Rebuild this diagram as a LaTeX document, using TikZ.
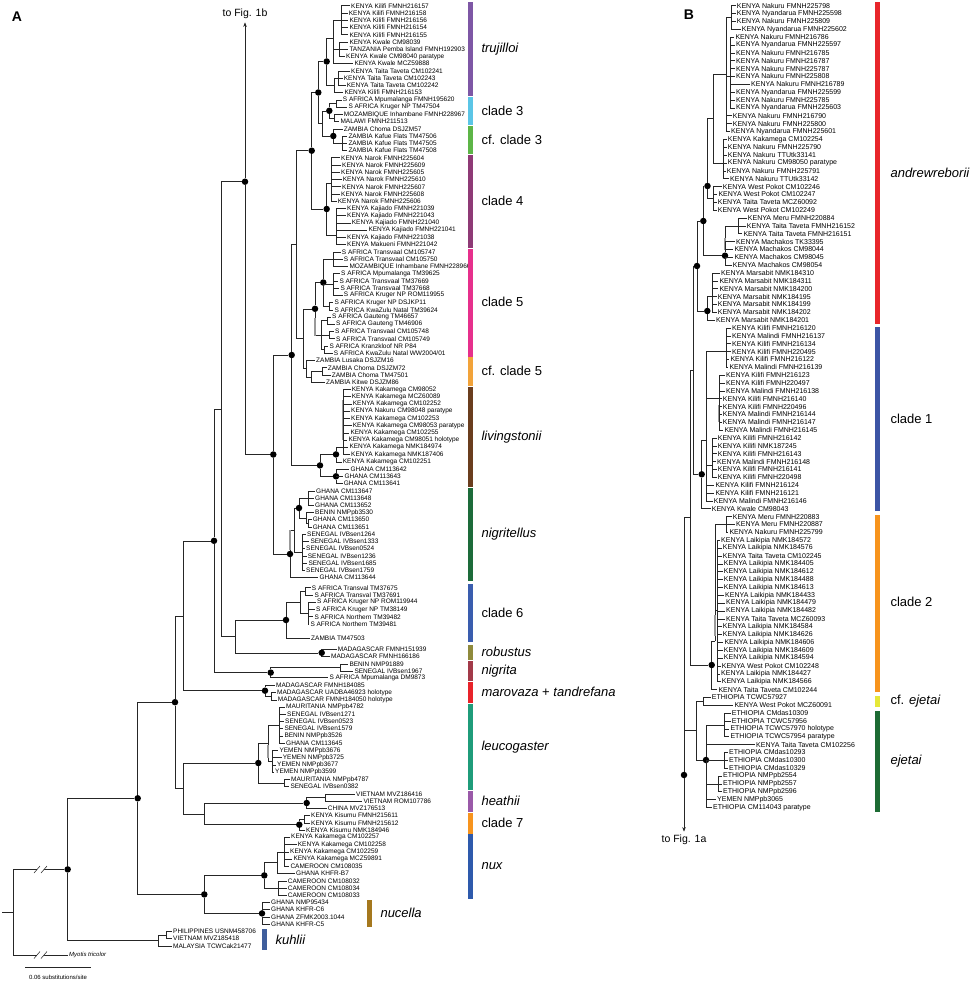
\documentclass[tikz,border=0pt]{standalone}
\usepackage{fontspec}
\setmainfont{Liberation Sans}
\usepackage{tikz}
\usetikzlibrary{arrows.meta}
\usepackage{xcolor}
\definecolor{ColTru}{RGB}{126,87,165}
\definecolor{ColCThree}{RGB}{91,197,230}
\definecolor{ColCfThree}{RGB}{93,181,71}
\definecolor{ColCFour}{RGB}{142,58,118}
\definecolor{ColCFive}{RGB}{230,48,140}
\definecolor{ColCfFive}{RGB}{242,163,58}
\definecolor{ColLiv}{RGB}{106,61,30}
\definecolor{ColNgr}{RGB}{29,107,58}
\definecolor{ColCSix}{RGB}{58,93,174}
\definecolor{ColRob}{RGB}{143,138,60}
\definecolor{ColNig}{RGB}{162,58,73}
\definecolor{ColMar}{RGB}{232,35,42}
\definecolor{ColLeu}{RGB}{31,156,122}
\definecolor{ColHea}{RGB}{154,89,168}
\definecolor{ColCSeven}{RGB}{247,148,30}
\definecolor{ColNux}{RGB}{46,90,172}
\definecolor{ColNuc}{RGB}{165,120,30}
\definecolor{ColKuh}{RGB}{63,94,156}
\definecolor{ColAnd}{RGB}{232,38,43}
\definecolor{ColCOne}{RGB}{60,85,165}
\definecolor{ColCTwo}{RGB}{247,148,29}
\definecolor{ColCfEj}{RGB}{230,232,56}
\definecolor{ColEj}{RGB}{29,107,52}
\tikzstyle{TipA}=[anchor=west,inner sep=1pt,font=\fontsize{6.5}{7}\selectfont]
\tikzstyle{TipB}=[anchor=west,inner sep=1pt,font=\fontsize{7}{8}\selectfont]
\tikzstyle{Branch}=[black!85,line width=0.55pt]
\tikzstyle{SupDot}=[circle,fill=black,inner sep=0pt,minimum size=6.5pt]
\tikzstyle{SupBar}=[fill=black!40]
\tikzstyle{CladeName}=[anchor=west,font=\fontsize{13}{15}\selectfont]
\tikzstyle{PanelTag}=[font=\bfseries\fontsize{14}{16}\selectfont]
\tikzstyle{LinkText}=[font=\fontsize{10.5}{12}\selectfont]
\tikzstyle{SmallNote}=[font=\fontsize{6}{7}\selectfont]
\newcommand{\LeafA}[5]{\node[TipA](#1)at(#3,#4){#5};\draw[Branch](#2)|-(#1.west);}
\newcommand{\LeafB}[5]{\node[TipB](#1)at(#3,#4){#5};\draw[Branch](#2)|-(#1.west);}
\begin{document}
\begin{tikzpicture}[x=1pt,y=-1pt]
\useasboundingbox (0,0) rectangle (970,984);
\node[PanelTag](tagA)at(17,17){A};
\node[PanelTag](tagB)at(689,15){B};
% ---------- panel A: inner nodes
\node[SupDot](aTru)at(326.7,61.5){};
\coordinate(aTruA)at(333,38);
\coordinate(aTruA1)at(341,20.2);
\coordinate(aTruA2)at(339,49.1);
\coordinate(aTruB)at(334,85);
\coordinate(aTruB1)at(338,78.1);
\coordinate(aC3x)at(322,123.4);
\node[SupDot](aC3)at(329.3,110.8){};
\coordinate(aC3a)at(336,103.5);
\coordinate(aC3b)at(334,118);
\node[SupDot](aCF3)at(333.3,136){};
\coordinate(aCF3a)at(342,143.3);
\node[SupDot](aN10)at(318.3,92.5){};
\node[SupDot](aC4)at(326.7,209){};
\coordinate(aC4n)at(331,183);
\coordinate(aC4k)at(336,235);
\node[SupDot](aN8)at(311.7,150.7){};
\node[SupDot](aC5)at(315,308.8){};
\node[SupDot](aC5a)at(323.3,282.5){};
\coordinate(aC5a1)at(333,259);
\coordinate(aC5a2)at(333,284);
\coordinate(aC5a3)at(329,306);
\coordinate(aC5b)at(321,335.1);
\coordinate(aC5b1)at(327,320.6);
\coordinate(aC5b2)at(329,335.1);
\coordinate(aC5b3)at(324,349.6);
\coordinate(aCF5)at(306,368.6);
\coordinate(aCF5b)at(311,376.8);
\coordinate(aCF5c)at(322,371.3);
\coordinate(aN9)at(303.3,338.7);
\coordinate(aN7)at(296.7,244.7);
\coordinate(aLivK)at(343,447);
\node[SupDot](aLiv)at(336,454.4){};
\node[SupDot](aGh)at(336,476.3){};
\node[SupDot](aLG)at(320,465.4){};
\node[SupDot](aN5)at(291.7,355){};
\coordinate(aNgrG1)at(308,498);
\coordinate(aNgrG2)at(306,518);
\coordinate(aNgrG2p)at(308,523.4);
\node[SupDot](aNgrG)at(299,508){};
\coordinate(aNgrS)at(302,552.3);
\coordinate(aNgrGS)at(294,530.2);
\node[SupDot](aNgr)at(290,554){};
\node[SupDot](aN4)at(273.3,454.5){};
\node[SupDot](aN3)at(245,181.7){};
\coordinate(aC6a)at(305,591.3);
\coordinate(aC6b)at(308,613);
\coordinate(aC6s)at(300,602);
\node[SupDot](aC6)at(286,620){};
\node[SupDot](aRob)at(321.7,652.8){};
\coordinate(aN6)at(235.3,636.4);
\coordinate(aN2)at(221,409);
\coordinate(aNigP)at(340,667.7);
\node[SupDot](aNig)at(270.7,672.6){};
\node[SupDot](aN1)at(214,540.8){};
\coordinate(aMarP)at(271,696.1);
\node[SupDot](aMar)at(265,690.7){};
\coordinate(aH3)at(183.7,615.8);
\coordinate(aLeuA1)at(279,725);
\coordinate(aLeuA2)at(272,761);
\coordinate(aLeuA)at(268,743);
\coordinate(aLeuB)at(284,783);
\node[SupDot](aLeu)at(258.3,763){};
\coordinate(aHeaP)at(325,797.5);
\node[SupDot](aHea)at(306.7,803){};
\coordinate(aC7P)at(304,819.3);
\node[SupDot](aC7)at(299.3,824.7){};
\coordinate(aH5)at(204.3,813.9);
\coordinate(aH4)at(183.3,788.5);
\node[SupDot](aH2)at(175,702.2){};
\coordinate(aNuxK1)at(284,851.8);
\coordinate(aNuxK)at(277,862.7);
\coordinate(aNuxC)at(278,888);
\node[SupDot](aNux)at(264.3,875.4){};
\node[SupDot](aNuc)at(262,913.4){};
\node[SupDot](aNN)at(204.3,894.4){};
\node[SupDot](aH1)at(137.7,798.3){};
\coordinate(aKuhP)at(166,935.1);
\coordinate(aKuh)at(158,940.5);
\node[SupDot](aIn)at(67.7,869.4){};
\coordinate(aRoot)at(13,912);
\coordinate(aBase)at(2,912);
% ---------- panel A: inner branches
\draw[Branch](aTru)|-(aTruA) (aTru)|-(aTruB) (aTruA)|-(aTruA1) (aTruA)|-(aTruA2) (aTruB)|-(aTruB1);
\draw[Branch](aC3x)|-(aC3) (aC3x)|-(aCF3) (aC3)|-(aC3a) (aC3)|-(aC3b) (aCF3)|-(aCF3a);
\draw[Branch](aN10)|-(aTru) (aN10)|-(aC3x) (aC4)|-(aC4n) (aC4)|-(aC4k);
\draw[Branch](aN8)|-(aN10) (aN8)|-(aC4);
\draw[Branch](aC5)|-(aC5a) (aC5)|-(aC5b) (aC5a)|-(aC5a1) (aC5a)|-(aC5a2) (aC5a)|-(aC5a3);
\draw[Branch](aC5b)|-(aC5b1) (aC5b)|-(aC5b2) (aC5b)|-(aC5b3);
\draw[Branch](aCF5)|-(aCF5b) (aCF5b)|-(aCF5c) (aN9)|-(aC5) (aN9)|-(aCF5);
\draw[Branch](aN7)|-(aN8) (aN7)|-(aN9);
\draw[Branch](aLiv)|-(aLivK) (aLG)|-(aLiv) (aLG)|-(aGh) (aN5)|-(aN7) (aN5)|-(aLG);
\draw[Branch](aNgrG)|-(aNgrG1) (aNgrG)|-(aNgrG2) (aNgrG2)|-(aNgrG2p) (aNgrGS)|-(aNgrG) (aNgrGS)|-(aNgrS) (aNgr)|-(aNgrGS);
\draw[Branch](aN4)|-(aN5) (aN4)|-(aNgr) (aN3)|-(aN4);
\draw[Branch](aC6s)|-(aC6a) (aC6s)|-(aC6b) (aC6)|-(aC6s) (aN6)|-(aC6) (aN6)|-(aRob);
\draw[Branch](aN2)|-(aN3) (aN2)|-(aN6) (aNig)|-(aNigP) (aN1)|-(aN2) (aN1)|-(aNig);
\draw[Branch](aMar)|-(aMarP) (aH3)|-(aN1) (aH3)|-(aMar);
\draw[Branch](aLeuA)|-(aLeuA1) (aLeuA)|-(aLeuA2) (aLeu)|-(aLeuA) (aLeu)|-(aLeuB);
\draw[Branch](aHea)|-(aHeaP) (aC7)|-(aC7P) (aH5)|-(aHea) (aH5)|-(aC7) (aH4)|-(aLeu) (aH4)|-(aH5);
\draw[Branch](aH2)|-(aH3) (aH2)|-(aH4);
\draw[Branch](aNuxK)|-(aNuxK1) (aNux)|-(aNuxK) (aNux)|-(aNuxC) (aNN)|-(aNux) (aNN)|-(aNuc);
\draw[Branch](aH1)|-(aH2) (aH1)|-(aNN) (aKuh)|-(aKuhP) (aIn)|-(aH1) (aIn)|-(aKuh);
\draw[Branch](aRoot)|-(aIn) (aBase)--(aRoot);
% grey support bars
\fill[SupBar](288.6,530)rectangle(291.4,550);
\fill[SupBar](313.6,318)rectangle(316.4,336);
\fill[SupBar](341.6,400)rectangle(344.4,440);
\fill[SupBar](266.6,745)rectangle(269.4,758);
% link to panel B
\node[LinkText](aUp)at(245,14){to Fig. 1b};
\draw[Branch,-{Stealth[length=4.5pt,width=3.5pt]}](aN3)--(aUp);
% ---------- panel A: tips
\LeafA{tA1}{aTruA1}{350}{5.7}{KENYA Kilifi FMNH216157}
\LeafA{tA2}{aTruA1}{347.7}{12.9}{KENYA Kilifi FMNH216158}
\LeafA{tA3}{aTruA1}{348.3}{20.2}{KENYA Kilifi FMNH216156}
\LeafA{tA4}{aTruA1}{348.3}{27.4}{KENYA Kilifi FMNH216154}
\LeafA{tA5}{aTruA1}{348.3}{34.7}{KENYA Kilifi FMNH216155}
\LeafA{tA6}{aTruA2}{348.3}{41.9}{KENYA Kwale CM98039}
\LeafA{tA7}{aTruA2}{348.3}{49.1}{TANZANIA Pemba Island FMNH192903}
\LeafA{tA8}{aTruA2}{345}{56.4}{KENYA Kwale CM98040 paratype}
\LeafA{tA9}{aTruA}{353.3}{63.6}{KENYA Kwale MCZ59888}
\LeafA{tA10}{aTruB1}{350}{70.9}{KENYA Taita Taveta CM102241}
\LeafA{tA11}{aTruB1}{342.7}{78.1}{KENYA Taita Taveta CM102243}
\LeafA{tA12}{aTruB1}{345.7}{85.3}{KENYA Taita Taveta CM102242}
\LeafA{tA13}{aTruB}{343.3}{92.6}{KENYA Kilifi FMNH216153}
\LeafA{tA14}{aC3a}{341.7}{99.8}{S AFRICA Mpumalanga FMNH195620}
\LeafA{tA15}{aC3a}{347.3}{107.1}{S AFRICA Kruger NP TM47504}
\LeafA{tA16}{aC3b}{342.7}{114.3}{MOZAMBIQUE Inhambane FMNH228967}
\LeafA{tA17}{aC3b}{339.3}{121.5}{MALAWI FMNH211513}
\LeafA{tA18}{aCF3}{342.7}{128.8}{ZAMBIA Choma DSJZM57}
\LeafA{tA19}{aCF3a}{347.3}{136.0}{ZAMBIA Kafue Flats TM47506}
\LeafA{tA20}{aCF3a}{347.3}{143.3}{ZAMBIA Kafue Flats TM47505}
\LeafA{tA21}{aCF3a}{347.3}{150.5}{ZAMBIA Kafue Flats TM47508}
\LeafA{tA22}{aC4n}{340}{157.7}{KENYA Narok FMNH225604}
\LeafA{tA23}{aC4n}{341}{165.0}{KENYA Narok FMNH225609}
\LeafA{tA24}{aC4n}{340}{172.2}{KENYA Narok FMNH225605}
\LeafA{tA25}{aC4n}{341.7}{179.5}{KENYA Narok FMNH225610}
\LeafA{tA26}{aC4n}{341}{186.7}{KENYA Narok FMNH225607}
\LeafA{tA27}{aC4n}{340}{193.9}{KENYA Narok FMNH225608}
\LeafA{tA28}{aC4n}{336.7}{201.2}{KENYA Narok FMNH225606}
\LeafA{tA29}{aC4k}{346}{208.4}{KENYA Kajiado FMNH221039}
\LeafA{tA30}{aC4k}{346}{215.7}{KENYA Kajiado FMNH221043}
\LeafA{tA31}{aC4k}{350.7}{222.9}{KENYA Kajiado FMNH221040}
\LeafA{tA32}{aC4k}{367.3}{230.1}{KENYA Kajiado FMNH221041}
\LeafA{tA33}{aC4k}{346}{237.4}{KENYA Kajiado FMNH221038}
\LeafA{tA34}{aC4k}{346}{244.6}{KENYA Makueni FMNH221042}
\LeafA{tA35}{aC5a1}{340.7}{251.9}{S AFRICA Transvaal CM105747}
\LeafA{tA36}{aC5a1}{342.7}{259.1}{S AFRICA Transvaal CM105750}
\LeafA{tA37}{aC5a1}{348.3}{266.3}{MOZAMBIQUE Inhambane FMNH228966}
\LeafA{tA38}{aC5a2}{340}{273.6}{S AFRICA Mpumalanga TM39625}
\LeafA{tA39}{aC5a2}{338.3}{280.8}{S AFRICA Transvaal TM37669}
\LeafA{tA40}{aC5a2}{339.3}{288.1}{S AFRICA Transvaal TM37668}
\LeafA{tA41}{aC5a2}{342.7}{295.3}{S AFRICA Kruger NP ROM119955}
\LeafA{tA42}{aC5a3}{333.3}{302.5}{S AFRICA Kruger NP DSJKP11}
\LeafA{tA43}{aC5a3}{333.3}{309.8}{S AFRICA KwaZulu Natal TM39624}
\LeafA{tA44}{aC5b1}{331}{317.0}{S AFRICA Gauteng TM46657}
\LeafA{tA45}{aC5b1}{335}{324.3}{S AFRICA Gauteng TM46906}
\LeafA{tA46}{aC5b2}{334}{331.5}{S AFRICA Transvaal CM105748}
\LeafA{tA47}{aC5b2}{335}{338.7}{S AFRICA Transvaal CM105749}
\LeafA{tA48}{aC5b3}{328.3}{346.0}{S AFRICA Kranzkloof NR P84}
\LeafA{tA49}{aC5b3}{332.7}{353.2}{S AFRICA KwaZulu Natal WW2004/01}
\LeafA{tA50}{aCF5}{315}{360.5}{ZAMBIA Lusaka DSJZM16}
\LeafA{tA51}{aCF5c}{326.7}{367.7}{ZAMBIA Choma DSJZM72}
\LeafA{tA52}{aCF5c}{330.7}{374.9}{ZAMBIA Choma TM47501}
\LeafA{tA53}{aCF5b}{325}{382.2}{ZAMBIA Kitwe DSJZM86}
\LeafA{tA54}{aLivK}{350.7}{389.4}{KENYA Kakamega CM98052}
\LeafA{tA55}{aLivK}{350.7}{396.7}{KENYA Kakamega MCZ60089}
\LeafA{tA56}{aLivK}{351.7}{403.9}{KENYA Kakamega CM102252}
\LeafA{tA57}{aLivK}{350}{411.1}{KENYA Nakuru CM98048 paratype}
\LeafA{tA58}{aLivK}{350}{418.4}{KENYA Kakamega CM102253}
\LeafA{tA59}{aLivK}{351.7}{425.6}{KENYA Kakamega CM98053 paratype}
\LeafA{tA60}{aLivK}{349.3}{432.9}{KENYA Kakamega CM102255}
\LeafA{tA61}{aLivK}{347.3}{440.1}{KENYA Kakamega CM98051 holotype}
\LeafA{tA62}{aLivK}{348.3}{447.3}{KENYA Kakamega NMK184974}
\LeafA{tA63}{aLivK}{350}{454.6}{KENYA Kakamega NMK187406}
\LeafA{tA64}{aLiv}{341.7}{461.8}{KENYA Kakamega CM102251}
\LeafA{tA65}{aGh}{349.3}{469.1}{GHANA CM113642}
\LeafA{tA66}{aGh}{343.3}{476.3}{GHANA CM113643}
\LeafA{tA67}{aGh}{342.7}{483.5}{GHANA CM113641}
\LeafA{tA68}{aNgrG1}{315}{490.8}{GHANA CM113647}
\LeafA{tA69}{aNgrG1}{314}{498.0}{GHANA CM113648}
\LeafA{tA70}{aNgrG1}{314}{505.3}{GHANA CM113652}
\LeafA{tA71}{aNgrG2}{314}{512.5}{BENIN NMPpb3530}
\LeafA{tA72}{aNgrG2p}{311.7}{519.7}{GHANA CM113650}
\LeafA{tA73}{aNgrG2p}{311.7}{527.0}{GHANA CM113651}
\LeafA{tA74}{aNgrS}{306}{534.2}{SENEGAL IVBsen1264}
\LeafA{tA75}{aNgrS}{309.3}{541.5}{SENEGAL IVBsen1333}
\LeafA{tA76}{aNgrS}{305}{548.7}{SENEGAL IVBsen0524}
\LeafA{tA77}{aNgrS}{306.7}{555.9}{SENEGAL IVBsen1236}
\LeafA{tA78}{aNgrS}{307.3}{563.2}{SENEGAL IVBsen1685}
\LeafA{tA79}{aNgrS}{305}{570.4}{SENEGAL IVBsen1759}
\LeafA{tA80}{aNgr}{318.3}{577.7}{GHANA CM113644}
\LeafA{tA81}{aC6a}{310.7}{587.7}{S AFRICA Transval TM37675}
\LeafA{tA82}{aC6a}{313.3}{594.9}{S AFRICA Transval TM37691}
\LeafA{tA83}{aC6b}{316}{602.2}{S AFRICA Kruger NP ROM119944}
\LeafA{tA84}{aC6b}{315}{609.4}{S AFRICA Kruger NP TM38149}
\LeafA{tA85}{aC6b}{313.3}{616.7}{S AFRICA Northern TM39482}
\LeafA{tA86}{aC6b}{309.3}{623.9}{S AFRICA Northern TM39481}
\LeafA{tA87}{aC6}{310}{638}{ZAMBIA TM47503}
\LeafA{tA88}{aRob}{336.7}{649}{MADAGASCAR FMNH151939}
\LeafA{tA89}{aRob}{330}{656.5}{MADAGASCAR FMNH166186}
\LeafA{tA90}{aNigP}{348.3}{664.5}{BENIN NMP91889}
\LeafA{tA91}{aNigP}{353.3}{671}{SENEGAL IVBsen1967}
\LeafA{tA92}{aNig}{328.3}{677.5}{S AFRICA Mpumalanga DM9873}
\LeafA{tA93}{aMar}{275}{685.3}{MADAGASCAR FMNH184085}
\LeafA{tA94}{aMarP}{276}{692.5}{MADAGASCAR UADBA46923 holotype}
\LeafA{tA95}{aMarP}{276.7}{699.8}{MADAGASCAR FMNH184050 holotype}
\LeafA{tA96}{aLeuA1}{285}{707.0}{MAURITANIA NMPpb4782}
\LeafA{tA97}{aLeuA1}{286}{714.3}{SENEGAL IVBsen1271}
\LeafA{tA98}{aLeuA1}{284}{721.5}{SENEGAL IVBsen0523}
\LeafA{tA99}{aLeuA1}{283.3}{728.7}{SENEGAL IVBsen1579}
\LeafA{tA100}{aLeuA1}{283.3}{736.0}{BENIN NMPpb3526}
\LeafA{tA101}{aLeuA1}{285}{743.2}{GHANA CM113645}
\LeafA{tA102}{aLeuA2}{278.3}{750.5}{YEMEN NMPpb3676}
\LeafA{tA103}{aLeuA2}{281.7}{757.7}{YEMEN NMPpb3725}
\LeafA{tA104}{aLeuA2}{276}{764.9}{YEMEN NMPpb3677}
\LeafA{tA105}{aLeuA2}{274}{772.2}{YEMEN NMPpb3599}
\LeafA{tA106}{aLeuB}{290}{779.4}{MAURITANIA NMPpb4787}
\LeafA{tA107}{aLeuB}{289.3}{786.7}{SENEGAL IVBsen0382}
\LeafA{tA108}{aHeaP}{355}{793.9}{VIETNAM MVZ186416}
\LeafA{tA109}{aHeaP}{362.3}{801.1}{VIETNAM ROM107786}
\LeafA{tA110}{aHea}{326.7}{808.4}{CHINA MVZ176513}
\LeafA{tA111}{aC7P}{310}{815.6}{KENYA Kisumu FMNH215611}
\LeafA{tA112}{aC7P}{310}{822.9}{KENYA Kisumu FMNH215612}
\LeafA{tA113}{aC7}{305}{830.1}{KENYA Kisumu NMK184946}
\LeafA{tA114}{aNuxK1}{290}{837.3}{KENYA Kakamega CM102257}
\LeafA{tA115}{aNuxK1}{296.7}{844.6}{KENYA Kakamega CM102258}
\LeafA{tA116}{aNuxK1}{289}{851.8}{KENYA Kakamega CM102259}
\LeafA{tA117}{aNuxK1}{292.3}{859.1}{KENYA Kakamega MCZ59891}
\LeafA{tA118}{aNuxK1}{289.3}{866.3}{CAMEROON CM108035}
\LeafA{tA119}{aNuxK}{295}{873.5}{GHANA KHFR-B7}
\LeafA{tA120}{aNuxC}{286.7}{880.8}{CAMEROON CM108032}
\LeafA{tA121}{aNuxC}{286.7}{888.0}{CAMEROON CM108034}
\LeafA{tA122}{aNuxC}{286.7}{895.3}{CAMEROON CM108033}
\LeafA{tA123}{aNuc}{270}{902.5}{GHANA NMP95434}
\LeafA{tA124}{aNuc}{270}{909.7}{GHANA KHFR-C6}
\LeafA{tA125}{aNuc}{270}{917.0}{GHANA ZFMK2003.1044}
\LeafA{tA126}{aNuc}{270}{924.2}{GHANA KHFR-C5}
\LeafA{tA127}{aKuhP}{172}{931.5}{PHILIPPINES USNM458706}
\LeafA{tA128}{aKuhP}{172}{938.7}{VIETNAM MVZ185418}
\LeafA{tA129}{aKuh}{172}{945.9}{MALAYSIA TCWCak21477}
\node[TipA,font=\itshape\fontsize{6}{7}\selectfont](tA130)at(68,955){Myotis tricolor};
\draw[Branch](aRoot)|-(tA130.west);
% long-branch breaks
\fill[white](37,864)rectangle(44,875) (37,950)rectangle(44,960);
\draw[Branch](34,873)--(40,866) (41,873)--(47,866) (34,958.5)--(40,951.5) (41,958.5)--(47,951.5);
% scale bar
\coordinate(sL)at(25,967);
\coordinate(sR)at(91,967);
\draw[Branch](sL)--(sR);
\node[SmallNote](scale)at(58,977){0.06 substitutions/site};
% ---------- panel A: clade bars
\fill[ColTru](468,2)rectangle(472.5,96);
\fill[ColCThree](468,96.8)rectangle(472.5,125);
\fill[ColCfThree](468,125.8)rectangle(472.5,154);
\fill[ColCFour](468,154.8)rectangle(472.5,248);
\fill[ColCFive](468,248.8)rectangle(472.5,356.5);
\fill[ColCfFive](468,357.3)rectangle(472.5,386);
\fill[ColLiv](468,386.8)rectangle(472.5,487);
\fill[ColNgr](468,487.8)rectangle(472.5,581);
\fill[ColCSix](468,584)rectangle(472.5,642);
\fill[ColRob](468,645)rectangle(472.5,660);
\fill[ColNig](468,661)rectangle(472.5,681);
\fill[ColMar](468,681.8)rectangle(472.5,703.4);
\fill[ColLeu](468,704)rectangle(472.5,790);
\fill[ColHea](468,790.7)rectangle(472.5,812);
\fill[ColCSeven](468,812.7)rectangle(472.5,833.7);
\fill[ColNux](468,834.4)rectangle(472.5,898.8);
\fill[ColNuc](367,900)rectangle(371.5,927);
\fill[ColKuh](262,929)rectangle(266.5,950);
\node[CladeName](lTru)at(478,49){\itshape trujilloi};
\node[CladeName](lC3)at(478,111){clade 3};
\node[CladeName](lCf3)at(478,140){cf. clade 3};
\node[CladeName](lC4)at(478,201){clade 4};
\node[CladeName](lC5)at(478,302){clade 5};
\node[CladeName](lCf5)at(478,371){cf. clade 5};
\node[CladeName](lLiv)at(478,437){\itshape livingstonii};
\node[CladeName](lNgr)at(478,534){\itshape nigritellus};
\node[CladeName](lC6)at(478,613){clade 6};
\node[CladeName](lRob)at(478,652){\itshape robustus};
\node[CladeName](lNig)at(478,671){\itshape nigrita};
\node[CladeName](lMar)at(478,692){\itshape marovaza \upshape+ \itshape tandrefana};
\node[CladeName](lLeu)at(478,747){\itshape leucogaster};
\node[CladeName](lHea)at(478,801){\itshape heathii};
\node[CladeName](lC7)at(478,823){clade 7};
\node[CladeName](lNux)at(478,866){\itshape nux};
\node[CladeName](lNuc)at(377,913){\itshape nucella};
\node[CladeName](lKuh)at(272,940){\itshape kuhlii};
% ---------- panel B: inner nodes
\coordinate(bAnA1)at(731,17.5);
\coordinate(bAnA2)at(730,76.4);
\coordinate(bAnA)at(726,74);
\coordinate(bAnB)at(723,163);
\coordinate(bAnT)at(713,118.5);
\coordinate(bWP)at(713,198);
\node[SupDot](bTop)at(707.5,186){};
\coordinate(bMachA)at(738,225.8);
\node[SupDot](bMach)at(725,255.7){};
\node[SupDot](bUp)at(703.3,221){};
\coordinate(bMarA)at(712,296.5);
\node[SupDot](bMar)at(707.3,311){};
\node[SupDot](bAndr)at(697,266){};
\coordinate(bC1a)at(726,351);
\coordinate(bC1b)at(719,398);
\coordinate(bC1c)at(712,465);
\coordinate(bC1U)at(706,440);
\node[SupDot](bC1)at(701.7,474.3){};
\coordinate(bAC)at(693,370);
\coordinate(bC2a)at(726,524.5);
\coordinate(bC2b)at(717,610);
\coordinate(bC2U)at(715,641);
\node[SupDot](bC2)at(711.7,665){};
\coordinate(bACC)at(690,517.5);
\coordinate(bCF)at(703,701.3);
\coordinate(bEj1)at(724,725);
\coordinate(bEj2)at(724,760.3);
\coordinate(bEj3)at(718,783.8);
\node[SupDot](bEj)at(706,760){};
\coordinate(bCE)at(696,730.6);
\node[SupDot](bR)at(684,775){};
% ---------- panel B: inner branches
\draw[Branch](bAnA)|-(bAnA1) (bAnA)|-(bAnA2) (bAnT)|-(bAnA) (bAnT)|-(bAnB) (bTop)|-(bAnT) (bTop)|-(bWP);
\draw[Branch](bMach)|-(bMachA) (bUp)|-(bTop) (bUp)|-(bMach) (bMar)|-(bMarA) (bAndr)|-(bUp) (bAndr)|-(bMar);
\draw[Branch](bC1U)|-(bC1a) (bC1U)|-(bC1b) (bC1U)|-(bC1c) (bC1)|-(bC1U);
\draw[Branch](bAC)|-(bAndr) (bAC)|-(bC1) (bC2U)|-(bC2a) (bC2U)|-(bC2b) (bC2)|-(bC2U);
\draw[Branch](bACC)|-(bAC) (bACC)|-(bC2) (bEj)|-(bEj1) (bEj)|-(bEj2) (bEj)|-(bEj3);
\draw[Branch](bCE)|-(bCF) (bCE)|-(bEj) (bR)|-(bACC) (bR)|-(bCE);
\fill[SupBar](723.6,238)rectangle(726.4,250);
\fill[SupBar](717.6,405)rectangle(720.4,422);
\fill[SupBar](713.6,615)rectangle(716.4,636);
\node[LinkText](bDown)at(684,840){to Fig. 1a};
\draw[Branch,-{Stealth[length=4.5pt,width=3.5pt]}](bR)--(bDown);
% ---------- panel B: tips
\LeafB{tB1}{bAnA1}{735.7}{5.7}{KENYA Nakuru FMNH225798}
\LeafB{tB2}{bAnA1}{735.7}{13.6}{KENYA Nyandarua FMNH225598}
\LeafB{tB3}{bAnA1}{735.7}{21.4}{KENYA Nakuru FMNH225809}
\LeafB{tB4}{bAnA1}{740.7}{29.3}{KENYA Nyandarua FMNH225602}
\LeafB{tB5}{bAnA2}{734.3}{37.1}{KENYA Nakuru FMNH216786}
\LeafB{tB6}{bAnA2}{735}{45.0}{KENYA Nyandarua FMNH225597}
\LeafB{tB7}{bAnA2}{735}{52.9}{KENYA Nakuru FMNH216785}
\LeafB{tB8}{bAnA2}{735}{60.7}{KENYA Nakuru FMNH216787}
\LeafB{tB9}{bAnA2}{735}{68.6}{KENYA Nakuru FMNH225787}
\LeafB{tB10}{bAnA2}{735}{76.4}{KENYA Nakuru FMNH225808}
\LeafB{tB11}{bAnA2}{750}{84.3}{KENYA Nakuru FMNH216789}
\LeafB{tB12}{bAnA2}{735}{92.2}{KENYA Nyandarua FMNH225599}
\LeafB{tB13}{bAnA2}{735}{100.0}{KENYA Nakuru FMNH225785}
\LeafB{tB14}{bAnA2}{735}{107.9}{KENYA Nyandarua FMNH225603}
\LeafB{tB15}{bAnA}{731.7}{115.7}{KENYA Nakuru FMNH216790}
\LeafB{tB16}{bAnA}{731.7}{123.6}{KENYA Nakuru FMNH225800}
\LeafB{tB17}{bAnA}{730}{131.5}{KENYA Nyandarua FMNH225601}
\LeafB{tB18}{bAnB}{726.7}{139.3}{KENYA Kakamega CM102254}
\LeafB{tB19}{bAnB}{726.7}{147.2}{KENYA Nakuru FMNH225790}
\LeafB{tB20}{bAnB}{726.7}{155.0}{KENYA Nakuru TTUtk33141}
\LeafB{tB21}{bAnB}{726.7}{162.9}{KENYA Nakuru CM98050 paratype}
\LeafB{tB22}{bAnB}{725.7}{170.8}{KENYA Nakuru FMNH225791}
\LeafB{tB23}{bAnB}{729}{178.6}{KENYA Nakuru TTUtk33142}
\LeafB{tB24}{bWP}{721.7}{186.5}{KENYA West Pokot CM102246}
\LeafB{tB25}{bWP}{717.3}{194.3}{KENYA West Pokot CM102247}
\LeafB{tB26}{bWP}{716.7}{202.2}{KENYA Taita Taveta MCZ60092}
\LeafB{tB27}{bWP}{716.7}{210.1}{KENYA West Pokot CM102249}
\LeafB{tB28}{bMachA}{746.7}{217.9}{KENYA Meru FMNH220884}
\LeafB{tB29}{bMachA}{745.7}{225.8}{KENYA Taita Taveta FMNH216152}
\LeafB{tB30}{bMachA}{742.3}{233.6}{KENYA Taita Taveta FMNH216151}
\LeafB{tB31}{bMach}{735}{241.5}{KENYA Machakos TK33395}
\LeafB{tB32}{bMach}{733.3}{249.4}{KENYA Machakos CM98044}
\LeafB{tB33}{bMach}{733.3}{257.2}{KENYA Machakos CM98045}
\LeafB{tB34}{bMach}{731.7}{265.1}{KENYA Machakos CM98054}
\LeafB{tB35}{bMarA}{720}{272.9}{KENYA Marsabit NMK184310}
\LeafB{tB36}{bMarA}{718.3}{280.8}{KENYA Marsabit NMK184311}
\LeafB{tB37}{bMarA}{718.3}{288.7}{KENYA Marsabit NMK184200}
\LeafB{tB38}{bMarA}{716.7}{296.5}{KENYA Marsabit NMK184195}
\LeafB{tB39}{bMarA}{716.7}{304.4}{KENYA Marsabit NMK184199}
\LeafB{tB40}{bMarA}{716.7}{312.2}{KENYA Marsabit NMK184202}
\LeafB{tB41}{bMar}{715}{320.1}{KENYA Marsabit NMK184201}
\LeafB{tB42}{bC1a}{731}{328.0}{KENYA Kilifi FMNH216120}
\LeafB{tB43}{bC1a}{731}{335.8}{KENYA Malindi FMNH216137}
\LeafB{tB44}{bC1a}{731}{343.7}{KENYA Kilifi FMNH216134}
\LeafB{tB45}{bC1a}{731}{351.5}{KENYA Kilifi FMNH220495}
\LeafB{tB46}{bC1a}{729.3}{359.4}{KENYA Kilifi FMNH216122}
\LeafB{tB47}{bC1a}{728.3}{367.3}{KENYA Malindi FMNH216139}
\LeafB{tB48}{bC1b}{725}{375.1}{KENYA Kilifi FMNH216123}
\LeafB{tB49}{bC1b}{725}{383.0}{KENYA Kilifi FMNH220497}
\LeafB{tB50}{bC1b}{725}{390.8}{KENYA Malindi FMNH216138}
\LeafB{tB51}{bC1b}{721.7}{398.7}{KENYA Kilifi FMNH216140}
\LeafB{tB52}{bC1b}{721.7}{406.6}{KENYA Kilifi FMNH220496}
\LeafB{tB53}{bC1b}{721.7}{414.4}{KENYA Malindi FMNH216144}
\LeafB{tB54}{bC1b}{721.7}{422.3}{KENYA Malindi FMNH216147}
\LeafB{tB55}{bC1b}{723.3}{430.1}{KENYA Malindi FMNH216145}
\LeafB{tB56}{bC1c}{716.7}{438.0}{KENYA Kilifi FMNH216142}
\LeafB{tB57}{bC1c}{716.7}{445.9}{KENYA Kilifi NMK187245}
\LeafB{tB58}{bC1c}{716.7}{453.7}{KENYA Kilifi FMNH216143}
\LeafB{tB59}{bC1c}{716}{461.6}{KENYA Malindi FMNH216148}
\LeafB{tB60}{bC1c}{716.7}{469.4}{KENYA Kilifi FMNH216141}
\LeafB{tB61}{bC1c}{716.7}{477.3}{KENYA Kilifi FMNH220498}
\LeafB{tB62}{bC1U}{714.3}{485.2}{KENYA Kilifi FMNH216124}
\LeafB{tB63}{bC1U}{714.3}{493.0}{KENYA Kilifi FMNH216121}
\LeafB{tB64}{bC1U}{712.7}{500.9}{KENYA Malindi FMNH216146}
\LeafB{tB65}{bC1}{710.7}{508.7}{KENYA Kwale CM98043}
\LeafB{tB66}{bC2a}{731.7}{516.6}{KENYA Meru FMNH220883}
\LeafB{tB67}{bC2a}{735}{524.5}{KENYA Meru FMNH220887}
\LeafB{tB68}{bC2a}{728.3}{532.3}{KENYA Nakuru FMNH225799}
\LeafB{tB69}{bC2b}{720}{540.2}{KENYA Laikipia NMK184572}
\LeafB{tB70}{bC2b}{721.7}{548.0}{KENYA Laikipia NMK184576}
\LeafB{tB71}{bC2b}{721.7}{555.9}{KENYA Taita Taveta CM102245}
\LeafB{tB72}{bC2b}{722.7}{563.8}{KENYA Laikipia NMK184405}
\LeafB{tB73}{bC2b}{722.7}{571.6}{KENYA Laikipia NMK184612}
\LeafB{tB74}{bC2b}{722.7}{579.5}{KENYA Laikipia NMK184488}
\LeafB{tB75}{bC2b}{722.7}{587.3}{KENYA Laikipia NMK184613}
\LeafB{tB76}{bC2b}{724}{595.2}{KENYA Laikipia NMK184433}
\LeafB{tB77}{bC2b}{725}{603.1}{KENYA Laikipia NMK184479}
\LeafB{tB78}{bC2b}{725}{610.9}{KENYA Laikipia NMK184482}
\LeafB{tB79}{bC2b}{725}{618.8}{KENYA Taita Taveta MCZ60093}
\LeafB{tB80}{bC2b}{721.7}{626.6}{KENYA Laikipia NMK184584}
\LeafB{tB81}{bC2b}{721.7}{634.5}{KENYA Laikipia NMK184626}
\LeafB{tB82}{bC2b}{723.3}{642.4}{KENYA Laikipia NMK184606}
\LeafB{tB83}{bC2b}{722.7}{650.2}{KENYA Laikipia NMK184609}
\LeafB{tB84}{bC2b}{722.7}{658.1}{KENYA Laikipia NMK184594}
\LeafB{tB85}{bC2b}{720.7}{665.9}{KENYA West Pokot CM102248}
\LeafB{tB86}{bC2b}{720}{673.8}{KENYA Laikipia NMK184427}
\LeafB{tB87}{bC2b}{720.7}{681.7}{KENYA Laikipia NMK184566}
\LeafB{tB88}{bC2}{717.3}{689.5}{KENYA Taita Taveta CM102244}
\LeafB{tB89}{bCF}{710.7}{697.4}{ETHIOPIA TCWC57927}
\LeafB{tB90}{bCF}{733.3}{705.2}{KENYA West Pokot MCZ60091}
\LeafB{tB91}{bEj1}{730.7}{713.1}{ETHIOPIA CMdas10309}
\LeafB{tB92}{bEj1}{730.7}{721.0}{ETHIOPIA TCWC57956}
\LeafB{tB93}{bEj1}{729.3}{728.8}{ETHIOPIA TCWC57970 holotype}
\LeafB{tB94}{bEj1}{729.3}{736.7}{ETHIOPIA TCWC57954 paratype}
\LeafB{tB95}{bEj}{755}{744.5}{KENYA Taita Taveta CM102256}
\LeafB{tB96}{bEj2}{728}{752.4}{ETHIOPIA CMdas10293}
\LeafB{tB97}{bEj2}{728}{760.3}{ETHIOPIA CMdas10300}
\LeafB{tB98}{bEj2}{728}{768.1}{ETHIOPIA CMdas10329}
\LeafB{tB99}{bEj3}{722}{776.0}{ETHIOPIA NMPpb2554}
\LeafB{tB100}{bEj3}{722}{783.8}{ETHIOPIA NMPpb2557}
\LeafB{tB101}{bEj3}{722}{791.7}{ETHIOPIA NMPpb2596}
\LeafB{tB102}{bEj}{716}{799.6}{YEMEN NMPpb3065}
\LeafB{tB103}{bEj}{712}{807.4}{ETHIOPIA CM114043 paratype}
% ---------- panel B: clade bars
\fill[ColAnd](875,2.5)rectangle(880,324.3);
\fill[ColCOne](875,326.7)rectangle(880,510.7);
\fill[ColCTwo](875,515)rectangle(880,691.7);
\fill[ColCfEj](875,695.7)rectangle(880,706.7);
\fill[ColEj](875,710.7)rectangle(880,812);
\node[CladeName](lAnd)at(887,173){\itshape andrewreborii};
\node[CladeName](lC1)at(887,418.7){clade 1};
\node[CladeName](lC2)at(887,602){clade 2};
\node[CladeName](lCfEj)at(887,701){cf. \itshape ejetai};
\node[CladeName](lEj)at(887,761){\itshape ejetai};
\end{tikzpicture}
\end{document}
